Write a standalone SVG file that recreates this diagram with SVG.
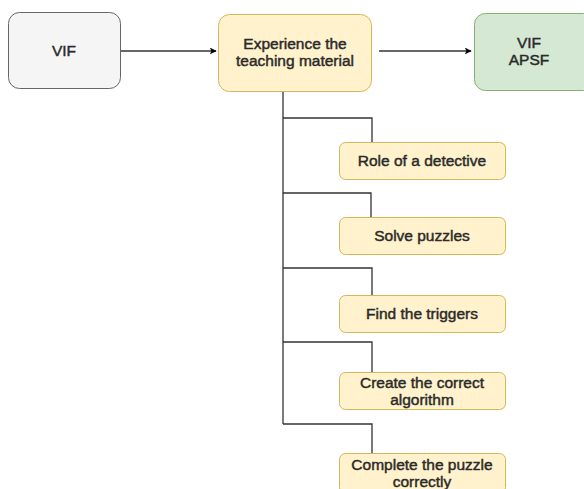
<svg xmlns="http://www.w3.org/2000/svg" width="584" height="489" viewBox="0 0 584 489">
  <defs>
    <marker id="arrow" viewBox="0 0 10 10" refX="9" refY="5" markerWidth="7" markerHeight="7" markerUnits="userSpaceOnUse" orient="auto">
      <path d="M0,0 L10,5 L0,10 L2.5,5 Z" fill="#000"/>
    </marker>
    <style>
      .lbl { font-family: "Liberation Sans", Arial, sans-serif; font-size: 15.5px; fill: #2a2a2a; stroke: #2a2a2a; stroke-width: 0.45; text-anchor: middle; }
      .grey { fill: #f5f5f5; stroke: #666; stroke-width: 1; }
      .yel { fill: #fff2cc; stroke: #d6b656; stroke-width: 1; }
      .grn { fill: #d5e8d4; stroke: #82b366; stroke-width: 1; }
      .wire { fill: none; stroke: #333; stroke-width: 1.3; }
    </style>
  </defs>

  <!-- connectors -->
  <g id="connectors">
    <line class="wire" x1="121" y1="51" x2="216" y2="51" marker-end="url(#arrow)"/>
    <line class="wire" x1="379" y1="51" x2="471" y2="51" marker-end="url(#arrow)"/>
    <path class="wire" d="M283,91 V424"/>
    <path class="wire" d="M283,118 H372 V142"/>
    <path class="wire" d="M283,193 H371 V217"/>
    <path class="wire" d="M283,268 H372 V295"/>
    <path class="wire" d="M283,342 H372 V372"/>
    <path class="wire" d="M283,424 H372 V453"/>
  </g>

  <!-- main flow -->
  <g id="vif-start">
    <rect class="grey" x="8.5" y="12.5" width="112" height="76" rx="11"/>
    <text class="lbl" x="64" y="56">VIF</text>
  </g>
  <g id="experience">
    <rect class="yel" x="218.5" y="14.5" width="153" height="77" rx="11"/>
    <text class="lbl" x="295" y="49">Experience the</text>
    <text class="lbl" x="295" y="66">teaching material</text>
  </g>
  <g id="vif-apsf">
    <rect class="grn" x="474.5" y="13.5" width="120" height="77" rx="11"/>
    <text class="lbl" x="529" y="48">VIF</text>
    <text class="lbl" x="529" y="65">APSF</text>
  </g>

  <!-- activity steps -->
  <g id="step-detective">
    <rect class="yel" x="339.5" y="142.5" width="166" height="37" rx="6"/>
    <text class="lbl" x="422" y="166">Role of a detective</text>
  </g>
  <g id="step-puzzles">
    <rect class="yel" x="339.5" y="217.5" width="166" height="37" rx="6"/>
    <text class="lbl" x="422" y="241">Solve puzzles</text>
  </g>
  <g id="step-triggers">
    <rect class="yel" x="339.5" y="295.5" width="166" height="37" rx="6"/>
    <text class="lbl" x="422" y="319">Find the triggers</text>
  </g>
  <g id="step-algorithm">
    <rect class="yel" x="339.5" y="372.5" width="166" height="37" rx="6"/>
    <text class="lbl" x="422" y="388">Create the correct</text>
    <text class="lbl" x="422" y="405">algorithm</text>
  </g>
  <g id="step-complete">
    <rect class="yel" x="339.5" y="453.5" width="166" height="40" rx="6"/>
    <text class="lbl" x="422" y="470">Complete the puzzle</text>
    <text class="lbl" x="422" y="487">correctly</text>
  </g>
</svg>
